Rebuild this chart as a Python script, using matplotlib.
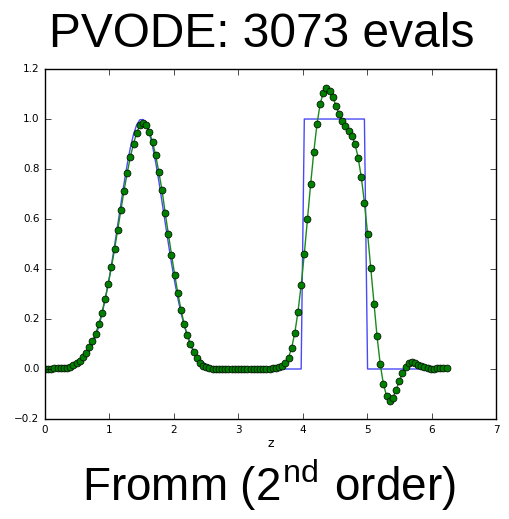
import numpy as np
import matplotlib
matplotlib.use('Agg')
import matplotlib.pyplot as plt

# grid: 128 uniform cells on [0, 2pi)
n_pts = 128
z = np.arange(n_pts) * (2 * np.pi / n_pts)

# exact solution sampled on the grid (gaussian near 1.5, box between 4 and 5)
exact = [0.0001, 0.0002, 0.0004, 0.0007, 0.0011, 0.0018, 0.0030, 0.0048, 0.0074, 0.0113,
         0.0170, 0.0251, 0.0362, 0.0512, 0.0712, 0.0970, 0.1297, 0.1700, 0.2187, 0.2760,
         0.3415, 0.4147, 0.4936, 0.5769, 0.6607, 0.7425, 0.8186, 0.8852, 0.9389, 0.9769,
         0.9970, 0.9981, 0.9802, 0.9441, 0.8921, 0.8267, 0.7518, 0.6703, 0.5864, 0.5031,
         0.4235, 0.3496, 0.2831, 0.2249, 0.1753, 0.1340, 0.1004, 0.0738, 0.0533, 0.0377,
         0.0262, 0.0178, 0.0119, 0.0078, 0.0050, 0.0032, 0.0020, 0.0012, 0.0007, 0.0004,
         0.0002, 0.0001, 0.0, 0.0, 0.0, 0.0, 0.0, 0.0, 0.0, 0.0,
         0.0, 0.0, 0.0, 0.0, 0.0, 0.0, 0.0, 0.0, 0.0, 0.0,
         0.0, 0.0, 1.0, 1.0, 1.0, 1.0, 1.0, 1.0, 1.0, 1.0,
         1.0, 1.0, 1.0, 1.0, 1.0, 1.0, 1.0, 1.0, 1.0, 1.0,
         1.0, 1.0, 0.0, 0.0, 0.0, 0.0, 0.0, 0.0, 0.0, 0.0,
         0.0, 0.0, 0.0, 0.0, 0.0, 0.0, 0.0, 0.0, 0.0, 0.0,
         0.0, 0.0, 0.0, 0.0, 0.0, 0.0, 0.0, 0.0]

# numerical solution (Fromm scheme)
fromm = [0.001, 0.001, 0.001, 0.002, 0.002, 0.003, 0.004, 0.005, 0.008, 0.014,
         0.022, 0.033, 0.047, 0.065, 0.086, 0.110, 0.141, 0.179, 0.225, 0.280,
         0.340, 0.407, 0.479, 0.557, 0.635, 0.714, 0.784, 0.849, 0.902, 0.945,
         0.975, 0.983, 0.977, 0.950, 0.908, 0.855, 0.787, 0.716, 0.625, 0.541,
         0.458, 0.378, 0.304, 0.238, 0.180, 0.135, 0.099, 0.066, 0.042, 0.025,
         0.013, 0.006, 0.003, 0.001, 0.0, 0.0, 0.0, 0.0, -0.001, -0.001,
         -0.001, -0.001, -0.001, -0.001, -0.001, -0.001, -0.001, -0.001, 0.0, 0.0,
         0.0, 0.001, 0.002, 0.003, 0.006, 0.010, 0.022, 0.045, 0.085, 0.145,
         0.229, 0.336, 0.461, 0.600, 0.739, 0.869, 0.979, 1.060, 1.106, 1.126,
         1.113, 1.089, 1.053, 1.020, 0.993, 0.973, 0.953, 0.933, 0.902, 0.846,
         0.769, 0.666, 0.542, 0.404, 0.262, 0.130, 0.020, -0.060, -0.107, -0.127,
         -0.116, -0.084, -0.050, -0.018, 0.009, 0.022, 0.026, 0.023, 0.017, 0.011,
         0.006, 0.002, 0.001, 0.001, 0.002, 0.002, 0.003, 0.004]

title_txt = 'PVODE: 3073 evals'
scheme_txt = r'Fromm (2$^{\mathregular{nd}}$ order)'

plt.style.use('classic')
fig = plt.figure(figsize=(5.1, 5.19), dpi=100, facecolor='white')
ax = fig.add_axes([0.0882, 0.1927, 0.8843, 0.6743])

ax.plot(z, exact, '-', color='#4a4af5', lw=1)
ax.plot(z, fromm, '-o', color='#1a8a1a', lw=1, markersize=5,
        markerfacecolor='green', markeredgecolor='k', markeredgewidth=0.5)

ax.set_xlim(0, 7)
ax.set_ylim(-0.2, 1.2)
ax.set_xticks(np.arange(0, 8, 1))
ax.set_yticks(np.arange(-0.2, 1.21, 0.2))
ax.tick_params(labelsize=7.5, direction='in')
ax.set_xlabel('z', fontsize=9, labelpad=2)

fig.text(0.514, 0.933, title_txt, ha='center', va='center', fontsize=34.5,
         family='Liberation Sans')
fig.text(0.527, 0.065, scheme_txt, ha='center', va='center', fontsize=33,
         family='Liberation Sans')

fig.savefig('out.png', dpi=100, facecolor='white')
